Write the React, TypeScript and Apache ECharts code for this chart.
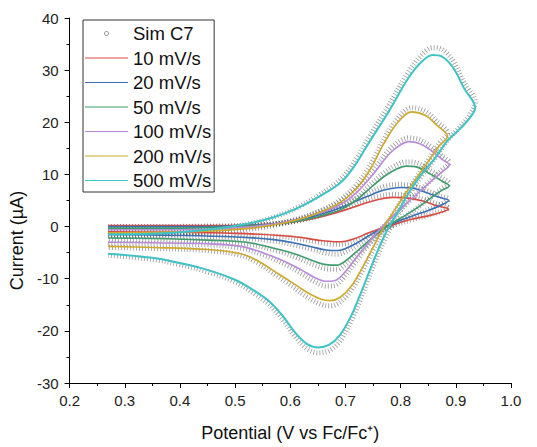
import React, { useEffect, useRef } from 'react';
import * as echarts from 'echarts';

const simName = 'Sim C7';
const scanRates = ['10 mV/s', '20 mV/s', '50 mV/s', '100 mV/s', '200 mV/s', '500 mV/s'];
const lineColors = ['#d94a43', '#3a70b6', '#3f9c6e', '#b98bd9', '#cfa92c', '#3ec3c6'];

// Potential (V vs Fc/Fc+) and current (µA) for each scan rate: forward then reverse sweep
const E10 = [0.27, 0.35, 0.45, 0.52, 0.58, 0.62, 0.66, 0.70, 0.73, 0.76, 0.785, 0.81, 0.84, 0.865, 0.887, 0.875, 0.855, 0.82, 0.79, 0.765, 0.74, 0.72, 0.70, 0.68, 0.65, 0.62, 0.58, 0.5, 0.4, 0.27];
const exp10 = [0.2, 0.2, 0.2, 0.3, 0.6, 1.1, 2.0, 3.2, 4.3, 5.2, 5.6, 5.5, 4.9, 4.0, 3.3, 2.8, 2.2, 1.4, 0.5, -0.3, -1.3, -2.2, -2.8, -2.9, -2.6, -2.1, -1.7, -1.3, -1.1, -1.0];
const sim10 = [0.0, 0.0, 0.1, 0.2, 0.6, 1.2, 2.3, 3.7, 4.9, 5.8, 6.2, 6.0, 5.3, 4.4, 3.6, 3.0, 2.3, 1.3, 0.3, -0.6, -1.7, -2.7, -3.3, -3.4, -3.0, -2.4, -1.9, -1.5, -1.3, -1.2];

const E20 = [0.27, 0.35, 0.45, 0.52, 0.58, 0.62, 0.66, 0.70, 0.74, 0.77, 0.80, 0.825, 0.85, 0.87, 0.887, 0.875, 0.85, 0.82, 0.79, 0.765, 0.74, 0.72, 0.70, 0.685, 0.665, 0.64, 0.61, 0.57, 0.5, 0.4, 0.27];
const exp20 = [0, 0, 0, 0.2, 0.6, 1.3, 2.5, 4.0, 5.8, 7.0, 7.5, 7.3, 6.4, 5.6, 5.0, 4.2, 3.1, 2.0, 0.8, -0.4, -1.9, -3.2, -4.2, -4.6, -4.5, -3.9, -3.2, -2.5, -2.0, -1.7, -1.5];
const sim20 = [-0.1, -0.1, 0, 0.2, 0.6, 1.4, 2.8, 4.5, 6.4, 7.7, 8.1, 7.8, 6.8, 5.9, 5.3, 4.4, 3.2, 1.9, 0.6, -0.7, -2.3, -3.7, -4.8, -5.3, -5.1, -4.4, -3.6, -2.8, -2.2, -1.9, -1.7];

const E50 = [0.27, 0.35, 0.45, 0.52, 0.57, 0.61, 0.65, 0.69, 0.72, 0.745, 0.77, 0.79, 0.81, 0.83, 0.855, 0.875, 0.888, 0.875, 0.855, 0.83, 0.80, 0.77, 0.745, 0.72, 0.70, 0.685, 0.665, 0.64, 0.61, 0.58, 0.52, 0.45, 0.35, 0.27];
const exp50 = [-0.3, -0.3, -0.2, 0.1, 0.5, 1.0, 1.9, 3.2, 5.1, 7.4, 9.6, 10.9, 11.6, 11.4, 10.0, 8.7, 7.8, 7.0, 5.5, 3.6, 1.6, -0.3, -2.5, -4.8, -6.6, -7.4, -7.3, -6.5, -5.3, -4.4, -3.0, -2.6, -2.3, -2.2];
const sim50 = [-0.5, -0.5, -0.4, 0, 0.5, 1.1, 2.1, 3.6, 5.6, 8.0, 10.3, 11.7, 12.4, 12.2, 10.7, 9.3, 8.3, 7.3, 5.7, 3.6, 1.4, -0.6, -3.0, -5.4, -7.3, -8.2, -8.1, -7.2, -5.9, -4.8, -3.3, -2.8, -2.5, -2.4];

const E100 = [0.27, 0.35, 0.45, 0.52, 0.57, 0.61, 0.65, 0.69, 0.72, 0.75, 0.78, 0.80, 0.815, 0.835, 0.855, 0.875, 0.888, 0.875, 0.85, 0.82, 0.79, 0.765, 0.74, 0.715, 0.695, 0.68, 0.665, 0.645, 0.62, 0.59, 0.55, 0.51, 0.45, 0.35, 0.27];
const exp100 = [-0.6, -0.6, -0.5, -0.1, 0.5, 1.3, 2.5, 4.2, 6.5, 10.0, 14.0, 15.7, 16.3, 15.9, 14.6, 12.9, 11.8, 10.5, 8.2, 5.3, 2.4, -0.2, -3.3, -6.6, -9.2, -10.4, -10.5, -9.8, -8.3, -6.7, -5.0, -3.8, -3.3, -3.1, -3.0];
const sim100 = [-0.8, -0.8, -0.7, -0.2, 0.5, 1.4, 2.8, 4.7, 7.2, 10.8, 14.8, 16.5, 17.0, 16.6, 15.3, 13.5, 12.3, 10.9, 8.4, 5.3, 2.2, -0.5, -3.7, -7.2, -10.0, -11.3, -11.4, -10.6, -9.0, -7.2, -5.4, -4.1, -3.5, -3.3, -3.2];

const E200 = [0.27, 0.35, 0.45, 0.52, 0.57, 0.61, 0.65, 0.69, 0.72, 0.745, 0.77, 0.795, 0.82, 0.845, 0.865, 0.885, 0.87, 0.85, 0.83, 0.81, 0.79, 0.77, 0.75, 0.73, 0.71, 0.69, 0.672, 0.655, 0.63, 0.60, 0.57, 0.54, 0.51, 0.45, 0.35, 0.27];
const exp200 = [-1.2, -1.1, -0.9, -0.4, 0.3, 1.2, 2.6, 4.6, 7.3, 11.0, 16.0, 20.0, 22.0, 21.3, 19.5, 17.3, 15.5, 12.5, 9.5, 6.5, 3.3, 0, -4.0, -8.0, -11.5, -13.6, -14.2, -13.9, -12.6, -10.5, -8.5, -6.5, -5.2, -4.4, -4.0, -3.8];
const sim200 = [-1.4, -1.3, -1.1, -0.6, 0.2, 1.2, 2.8, 5.1, 8.0, 11.8, 16.8, 20.8, 22.8, 22.1, 20.2, 17.9, 16.0, 12.8, 9.6, 6.4, 3.0, -0.4, -4.5, -8.6, -12.3, -14.5, -15.2, -14.9, -13.5, -11.2, -9.0, -6.9, -5.5, -4.6, -4.2, -4.0];

const E500 = [0.27, 0.35, 0.45, 0.52, 0.57, 0.61, 0.65, 0.693, 0.72, 0.742, 0.778, 0.813, 0.837, 0.858, 0.875, 0.895, 0.915, 0.935, 0.925, 0.905, 0.885, 0.86, 0.837, 0.815, 0.795, 0.775, 0.755, 0.74, 0.725, 0.71, 0.69, 0.67, 0.65, 0.63, 0.61, 0.586, 0.56, 0.53, 0.5, 0.45, 0.4, 0.35, 0.27];
const exp500 = [-1.5, -1.4, -0.6, 0.5, 1.8, 3.4, 5.6, 8.6, 12.2, 16.0, 22.0, 28.3, 31.5, 32.9, 32.6, 30.5, 26.5, 22.8, 20.8, 18.5, 16.5, 12.8, 9.9, 6.5, 2.8, -0.8, -5.5, -9.5, -13.5, -17.2, -20.8, -22.7, -23.2, -22.5, -20.5, -17.1, -14.2, -12.0, -10.2, -8.3, -7.0, -6.0, -5.2];
const sim500 = [-1.8, -1.7, -0.9, 0.4, 1.8, 3.5, 5.9, 9.2, 13.0, 17.0, 23.2, 29.5, 32.8, 34.3, 34.0, 31.8, 27.6, 23.8, 21.3, 18.8, 16.6, 12.7, 9.6, 6.0, 2.1, -1.6, -6.4, -10.4, -14.5, -18.2, -22.0, -23.8, -24.2, -23.4, -21.3, -17.8, -14.8, -12.5, -10.6, -8.7, -7.3, -6.3, -5.5];

const potentials = [E10, E20, E50, E100, E200, E500];
const expCurrents = [exp10, exp20, exp50, exp100, exp200, exp500];
const simCurrents = [sim10, sim20, sim50, sim100, sim200, sim500];

const FONT = '"Liberation Sans", Arial, sans-serif';

export default function App() {
  const ref = useRef<HTMLDivElement>(null);
  useEffect(() => {
    if (!ref.current) return;
    const chart = echarts.init(ref.current, undefined, { renderer: 'svg' });
    const zip = (xs: number[], ys: number[]) => xs.map((x, i) => [x, ys[i]]);

    const simSeries = potentials.map((E, k) => ({
      name: simName,
      type: 'line',
      data: zip(E, simCurrents[k]),
      smooth: 0.35,
      symbol: 'none',
      z: 1,
      itemStyle: { color: '#555' },
      lineStyle: { color: '#333', width: 5, type: [0.8, 2.2], opacity: 0.5 },
      emphasis: { disabled: true },
    }));
    const expSeries = potentials.map((E, k) => ({
      name: scanRates[k],
      type: 'line',
      data: zip(E, expCurrents[k]),
      smooth: 0.35,
      symbol: 'none',
      z: 2,
      itemStyle: { color: lineColors[k] },
      lineStyle: { color: lineColors[k], width: k === 5 ? 2 : 1.6 },
      emphasis: { disabled: true },
    }));

    chart.setOption({
      animation: false,
      backgroundColor: '#fff',
      textStyle: { fontFamily: FONT },
      grid: { left: 65, right: 26, top: 18, bottom: 59 },
      legend: {
        orient: 'vertical',
        left: 83,
        top: 20,
        padding: [4, 3, 2, 2],
        itemWidth: 43,
        itemHeight: 4,
        itemGap: 5.5,
        borderColor: '#333',
        borderWidth: 1,
        textStyle: { fontSize: 18.5, color: '#111', fontFamily: FONT },
        selectedMode: false,
        data: [
          { name: simName, icon: 'circle', itemStyle: { color: '#fff', borderColor: '#666', borderWidth: 0.8 } },
          ...scanRates.map((n, i) => ({ name: n, icon: 'path://M0 0h43v1.2h-43z', itemStyle: { color: lineColors[i] } })),
        ],
      },
      xAxis: {
        type: 'value',
        min: 0.2,
        max: 1.0,
        interval: 0.1,
        name: 'Potential (V vs Fc/Fc\u207A)',
        nameLocation: 'middle',
        nameGap: 41,
        nameTextStyle: { fontSize: 18, color: '#111', fontFamily: FONT },
        axisLine: { show: true, onZero: false, lineStyle: { color: '#000', width: 1 } },
        axisTick: { show: true, inside: false, length: 5, lineStyle: { color: '#000' } },
        minorTick: { show: true, splitNumber: 2, length: 3, lineStyle: { color: '#000' } },
        splitLine: { show: false },
        axisLabel: { fontSize: 15, color: '#222', margin: 10, fontFamily: FONT, formatter: (v: number) => v.toFixed(1) },
      },
      yAxis: {
        type: 'value',
        min: -30,
        max: 40,
        interval: 10,
        name: 'Current (\u00B5A)',
        nameLocation: 'middle',
        nameRotate: 90,
        nameGap: 37,
        nameTextStyle: { fontSize: 18, color: '#111', fontFamily: FONT, padding: [0, 80, 0, 0] },
        axisLine: { show: true, onZero: false, lineStyle: { color: '#000', width: 1 } },
        axisTick: { show: true, inside: false, length: 5, lineStyle: { color: '#000' } },
        minorTick: { show: true, splitNumber: 2, length: 3, lineStyle: { color: '#000' } },
        splitLine: { show: false },
        axisLabel: { fontSize: 15, color: '#222', margin: 11, fontFamily: FONT },
      },
      series: [...simSeries, ...expSeries],
    });
    return () => chart.dispose();
  }, []);
  return <div ref={ref} style={{ width: 537, height: 447, position: 'absolute', left: 0, top: 0, background: '#fff' }} />;
}
